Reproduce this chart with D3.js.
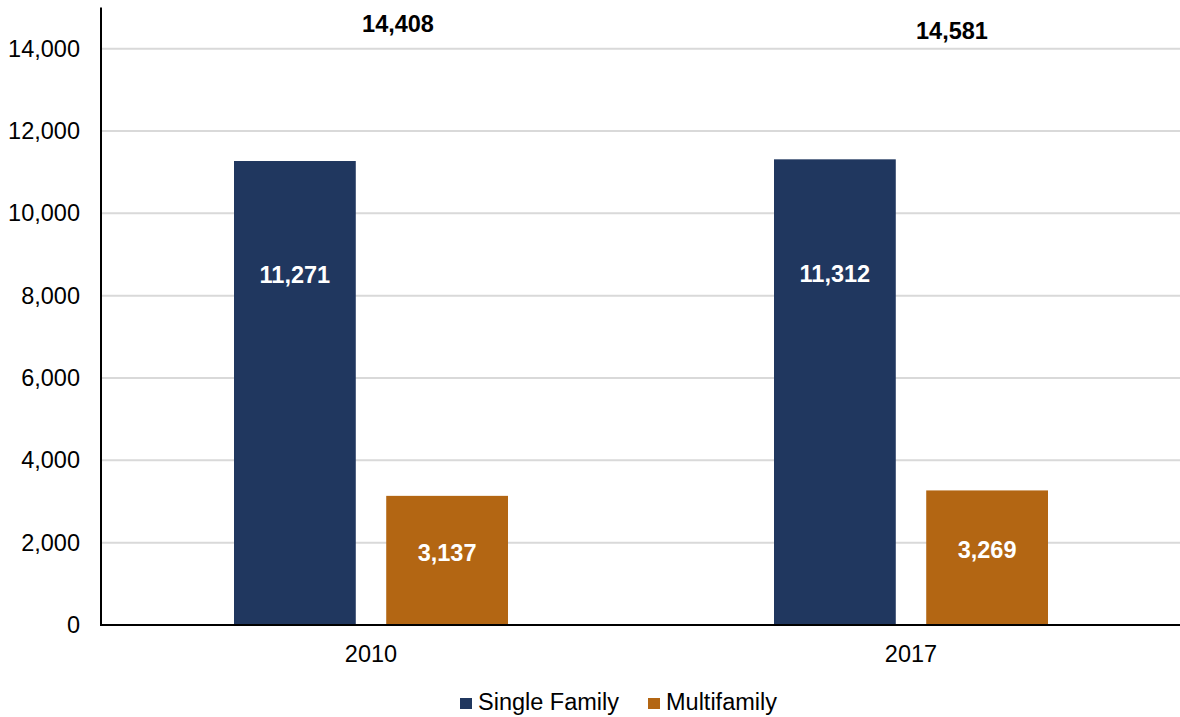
<!DOCTYPE html>
<html><head><meta charset="utf-8">
<script src="https://cdn.jsdelivr.net/npm/d3@7"></script>
<style>
html,body{margin:0;padding:0;background:#fff;}
svg{display:block;font-family:"Liberation Sans",Arial,sans-serif;}
</style></head>
<body>
<script>
const years = ["2010", "2017"];
const series = ["Single Family", "Multifamily"];
const singleFamily = [11271, 11312];
const multifamily = [3137, 3269];
const totals = [14408, 14581];
const yTicks = [0, 2000, 4000, 6000, 8000, 10000, 12000, 14000];
const colors = ["#20375F", "#B36613"];

(function () {
const W = 1180, H = 717;
const mLeft = 101, mRight = 1181, mTop = 7.5, mBottom = 625;
const FS = 23.5;
const svg = d3.select("body").append("svg").attr("width", W).attr("height", H);

const y = d3.scaleLinear().domain([0, 15000]).range([mBottom, mTop]);
const x0 = d3.scaleBand().domain(years).range([mLeft, mRight]).padding(0);
const x1 = d3.scaleBand().domain(series).range([-137, 137]).paddingInner(0.2);
const fmt = d3.format(",");

// gridlines
svg.append("g").selectAll("line").data(yTicks.filter(d => d > 0)).join("line")
  .attr("x1", mLeft).attr("x2", mRight)
  .attr("y1", d => y(d)).attr("y2", d => y(d))
  .attr("stroke", "#d9d9d9").attr("stroke-width", 2);

// y axis labels
const yAxis = d3.axisLeft(y).tickValues(yTicks).tickFormat(fmt).tickSize(0).tickPadding(21);
const ga = svg.append("g").attr("transform", `translate(${mLeft},0)`).call(yAxis);
ga.select(".domain").remove();
ga.selectAll("text").attr("font-size", FS).attr("fill", "#000")
  .attr("font-family", "'Liberation Sans',Arial,sans-serif");

const data = years.map((yr, i) => ({ year: yr, vals: [singleFamily[i], multifamily[i]], total: totals[i] }));

const groups = svg.append("g").selectAll("g").data(data).join("g")
  .attr("transform", d => `translate(${x0(d.year) + x0.bandwidth() / 2},0)`);

groups.selectAll("rect").data(d => d.vals.map((v, j) => ({ s: series[j], v, j }))).join("rect")
  .attr("x", d => x1(d.s)).attr("width", x1.bandwidth())
  .attr("y", d => y(d.v)).attr("height", d => y(0) - y(d.v))
  .attr("fill", d => colors[d.j]);

const labelFrac = [0.755, 0.56];
groups.selectAll("text.val").data(d => d.vals.map((v, j) => ({ s: series[j], v, j }))).join("text")
  .attr("class", "val")
  .attr("x", d => x1(d.s) + x1.bandwidth() / 2)
  .attr("y", d => y(d.v * labelFrac[d.j]))
  .attr("dy", "0.35em")
  .attr("text-anchor", "middle").attr("font-size", FS).attr("font-weight", "bold")
  .attr("fill", "#fff").text(d => fmt(d.v));

// totals
const totalNudge = [{ dx: 27, dy: 0 }, { dx: 41, dy: 14 }];
groups.append("text")
  .attr("x", (d, i) => totalNudge[i].dx)
  .attr("y", (d, i) => y(d.total) + totalNudge[i].dy)
  .attr("text-anchor", "middle").attr("font-size", FS).attr("font-weight", "bold")
  .attr("fill", "#000").text(d => fmt(d.total));

// x labels
const xAxis = d3.axisBottom(x0).tickSize(0).tickPadding(20);
const gx = svg.append("g").attr("transform", `translate(0,${mBottom})`).call(xAxis);
gx.select(".domain").remove();
gx.selectAll("text").attr("font-size", FS).attr("fill", "#000")
  .attr("font-family", "'Liberation Sans',Arial,sans-serif");

// axis lines
svg.append("line").attr("x1", mLeft).attr("x2", mLeft).attr("y1", mTop).attr("y2", mBottom + 1)
  .attr("stroke", "#000").attr("stroke-width", 2);
svg.append("line").attr("x1", mLeft - 1).attr("x2", mRight).attr("y1", mBottom).attr("y2", mBottom)
  .attr("stroke", "#000").attr("stroke-width", 2);

// legend
const legendX = [460, 648];
const lg = svg.append("g").selectAll("g").data(series).join("g")
  .attr("transform", (d, i) => `translate(${legendX[i]},698)`);
lg.append("rect").attr("width", 12).attr("height", 11).attr("fill", (d, i) => colors[i]);
lg.append("text").attr("x", 18).attr("y", 12).attr("font-size", FS).attr("fill", "#000").text(d => d);
})();
</script>
</body></html>
